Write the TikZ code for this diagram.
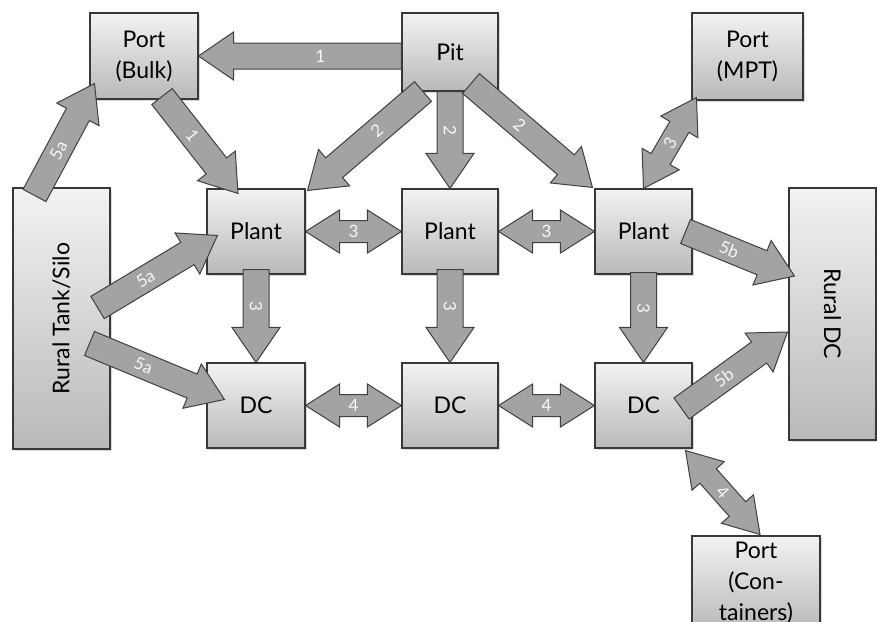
\documentclass[tikz,border=0pt]{standalone}
\usepackage{fontspec}
\setmainfont{Lato}
\usetikzlibrary{calc,shadows}

\newcommand{\boxfont}{\fontsize{23}{31}\selectfont}

\tikzset{
    box/.style={draw=black!78, line width=1.1pt, top color=gray!10, bottom color=gray!55,
        align=center, inner sep=2pt, font=\boxfont,
        drop shadow={shadow xshift=1.5pt, shadow yshift=-1.5pt, opacity=0.3}},
    blockarrow/.style={draw=black!75, line width=1pt, fill=gray!72, line join=miter},
    arrowlabel/.style={text=white!94!gray, font=\fontsize{17}{20}\selectfont, inner sep=0pt}
}

% one-headed block arrow: from, to, label
\newcommand{\onearrow}[3]{
    \coordinate (ta) at (#1);
    \coordinate (tb) at (#2);
    \coordinate (hb) at ($(tb)!35pt!(ta)$);
    \draw[blockarrow] ($(ta)!13pt!90:(tb)$) -- ($(hb)!13pt!-90:(ta)$) -- ($(hb)!24pt!-90:(ta)$)
        -- (tb) -- ($(hb)!24pt!90:(ta)$) -- ($(hb)!13pt!90:(ta)$) -- ($(ta)!13pt!-90:(tb)$) -- cycle;
    \path (ta) -- (tb) node[pos=0.4, sloped, arrowlabel] {#3};
}
% two-headed block arrow
\newcommand{\twoarrow}[3]{
    \coordinate (ta) at (#1);
    \coordinate (tb) at (#2);
    \coordinate (ha) at ($(ta)!34pt!(tb)$);
    \coordinate (hb) at ($(tb)!34pt!(ta)$);
    \draw[blockarrow] (ta) -- ($(ha)!21.5pt!90:(tb)$) -- ($(ha)!11pt!90:(tb)$) -- ($(hb)!11pt!-90:(ta)$)
        -- ($(hb)!21.5pt!-90:(ta)$) -- (tb) -- ($(hb)!21.5pt!90:(ta)$) -- ($(hb)!11pt!90:(ta)$)
        -- ($(ha)!11pt!-90:(tb)$) -- ($(ha)!21.5pt!-90:(tb)$) -- cycle;
    \path (ta) -- (tb) node[midway, sloped, arrowlabel] {#3};
}

\begin{document}
\begin{tikzpicture}[x=1pt, y=-1pt]
    \useasboundingbox (0,0) rectangle (877,621);

    \node[box, minimum width=108, minimum height=86] (bulk) at (144,56) {Port\\(Bulk)};
    \node[box, minimum width=96, minimum height=78] (pit) at (450,52) {Pit};
    \node[box, minimum width=111, minimum height=87] (mpt) at (747.5,56.5) {Port\\(MPT)};
    \node[box, minimum width=97, minimum height=261,
        label={[rotate=90, font=\boxfont]center:Rural Tank/Silo}] (tank) at (61.5,318.5) {};
    \node[box, minimum width=87, minimum height=252,
        label={[rotate=-90, font=\boxfont]center:Rural DC}] (ruraldc) at (832.5,314) {};

    \node[box, minimum width=98, minimum height=85] (plant1) at (256,231.5) {Plant};
    \node[box, minimum width=96, minimum height=85] (plant2) at (450,231.5) {Plant};
    \node[box, minimum width=97, minimum height=85] (plant3) at (643.5,231.5) {Plant};
    \node[box, minimum width=98, minimum height=85] (dc1) at (256,405.5) {DC};
    \node[box, minimum width=96, minimum height=85] (dc2) at (450,405.5) {DC};
    \node[box, minimum width=97, minimum height=85] (dc3) at (643.5,405.5) {DC};
    \node[box, minimum width=128, minimum height=94] (cont) at (756,583) {Port\\(Con-\\tainers)};

    \onearrow{pit.west |- bulk.east}{bulk.east}{1}
    \onearrow{[shift={(18,-3)}]bulk.south}{[shift={(-18,5)}]plant1.north}{1}
    \onearrow{[shift={(-27,0)}]pit.south}{[shift={(2,2)}]plant1.north east}{2}
    \onearrow{pit.south}{plant2.north}{2}
    \onearrow{[shift={(21,-8)}]pit.south}{[shift={(-2,-1)}]plant3.north west}{2}
    \twoarrow{[shift={(5,-3)}]mpt.south west}{plant3.north}{3}

    \onearrow{[shift={(-27,8)}]tank.north}{[shift={(5,-16)}]bulk.south west}{5a}
    \onearrow{[shift={(-13,-11)}]tank.east}{[shift={(11,4)}]plant1.west}{5a}
    \onearrow{[shift={(-21,25)}]tank.east}{[shift={(18,-6)}]dc1.west}{5a}

    \twoarrow{plant1.east}{plant2.west}{3}
    \twoarrow{plant2.east}{plant3.west}{3}
    \onearrow{[shift={(0,-5)}]plant1.south}{dc1.north}{3}
    \onearrow{[shift={(0,-5)}]plant2.south}{dc2.north}{3}
    \onearrow{[shift={(0,-2)}]plant3.south}{dc3.north}{3}
    \twoarrow{dc1.east}{dc2.west}{4}
    \twoarrow{dc2.east}{dc3.west}{4}

    \onearrow{[shift={(-7,0)}]plant3.east}{[shift={(6,-38)}]ruraldc.west}{5b}
    \onearrow{[shift={(-11,3)}]dc3.east}{[shift={(-1,18)}]ruraldc.west}{5b}
    \twoarrow{[shift={(-7,2)}]dc3.south east}{[shift={(4,-1)}]cont.north}{4}
\end{tikzpicture}
\end{document}
